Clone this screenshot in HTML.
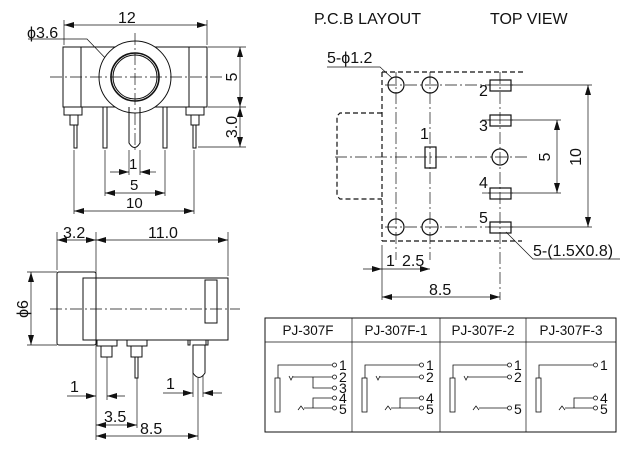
<!DOCTYPE html>
<html><head><meta charset="utf-8"><style>
html,body{margin:0;padding:0;background:#fff;}
svg{display:block;}
text{font-family:"Liberation Sans",sans-serif;fill:#111;}
</style></head><body>
<svg width="635" height="449" viewBox="0 0 635 449" xmlns="http://www.w3.org/2000/svg">
<defs>
<marker id="a" viewBox="0 0 10 6" refX="10" refY="3" markerWidth="10" markerHeight="6" orient="auto-start-reverse" markerUnits="userSpaceOnUse"><path d="M0,0 L10,3 L0,6 z" fill="#111"/></marker>
</defs>
<g stroke="#111" fill="none" stroke-width="1">
<!-- ===== Front view ===== -->
<g stroke-width="0.7">
<line x1="64" y1="20" x2="64" y2="45"/><line x1="207" y1="20" x2="207" y2="45"/>
<line x1="208" y1="47" x2="246" y2="47"/><line x1="208" y1="107" x2="246" y2="107"/><line x1="198" y1="147" x2="246" y2="147"/>
<line x1="74" y1="150" x2="74" y2="214"/><line x1="194" y1="150" x2="194" y2="214"/>
<line x1="105" y1="150" x2="105" y2="196"/><line x1="165" y1="150" x2="165" y2="196"/>
<line x1="129" y1="150" x2="129" y2="175"/><line x1="140" y1="150" x2="140" y2="175"/>
</g>
<line x1="64" y1="25" x2="207" y2="25" stroke-width="0.7" marker-start="url(#a)" marker-end="url(#a)"/>
<line x1="240" y1="47" x2="240" y2="107" stroke-width="0.7" marker-start="url(#a)" marker-end="url(#a)"/>
<line x1="240" y1="107" x2="240" y2="147" stroke-width="0.7" marker-start="url(#a)" marker-end="url(#a)"/>
<line x1="110" y1="172" x2="129" y2="172" stroke-width="0.7" marker-end="url(#a)"/>
<line x1="140" y1="172" x2="156" y2="172" stroke-width="0.7" marker-start="url(#a)"/>
<line x1="105" y1="193" x2="165" y2="193" stroke-width="0.7" marker-start="url(#a)" marker-end="url(#a)"/>
<line x1="74" y1="211" x2="194" y2="211" stroke-width="0.7" marker-start="url(#a)" marker-end="url(#a)"/>
<polyline points="28,39 87,39 110,63" stroke-width="0.7"/>
<rect x="63" y="47" width="144" height="60"/>
<line x1="81" y1="47" x2="81" y2="107"/><line x1="189" y1="47" x2="189" y2="107"/>
<circle cx="135" cy="77" r="36" fill="#fff"/>
<circle cx="135" cy="77" r="24" stroke-width="1.6"/>
<circle cx="135" cy="77" r="22"/>
<line x1="50" y1="77" x2="225" y2="77" stroke-width="0.7" stroke-dasharray="12,3,2,3"/>
<line x1="135" y1="33" x2="135" y2="150" stroke-width="0.7" stroke-dasharray="12,3,2,3"/>
<rect x="64" y="107" width="18" height="8"/><rect x="70" y="115" width="8" height="10"/><rect x="74" y="125" width="3" height="23"/>
<rect x="186" y="107" width="18" height="8"/><rect x="191" y="115" width="8" height="10"/><rect x="193" y="125" width="3" height="23"/>
<rect x="103" y="107" width="4" height="41"/><rect x="163" y="107" width="4" height="41"/>
<path d="M129,107 V143 Q134.5,152 140,143 V107"/>
<!-- ===== Side view ===== -->
<g stroke-width="0.7">
<line x1="57" y1="232" x2="57" y2="270"/><line x1="96" y1="232" x2="96" y2="440"/><line x1="228" y1="232" x2="228" y2="276"/>
<line x1="27" y1="272" x2="57" y2="272"/><line x1="27" y1="345" x2="57" y2="345"/>
<line x1="107" y1="357" x2="107" y2="400"/><line x1="137" y1="378" x2="137" y2="428"/>
<line x1="193" y1="370" x2="193" y2="397"/><line x1="203" y1="370" x2="203" y2="397"/><line x1="198" y1="378" x2="198" y2="440"/>
</g>
<line x1="57" y1="240" x2="96" y2="240" stroke-width="0.7" marker-start="url(#a)" marker-end="url(#a)"/>
<line x1="96" y1="240" x2="228" y2="240" stroke-width="0.7" marker-start="url(#a)" marker-end="url(#a)"/>
<line x1="31" y1="272" x2="31" y2="345" stroke-width="0.7" marker-start="url(#a)" marker-end="url(#a)"/>
<line x1="67" y1="396" x2="96" y2="396" stroke-width="0.7" marker-end="url(#a)"/>
<line x1="107" y1="396" x2="125" y2="396" stroke-width="0.7" marker-start="url(#a)"/>
<line x1="163" y1="393" x2="193" y2="393" stroke-width="0.7" marker-end="url(#a)"/>
<line x1="203" y1="393" x2="222" y2="393" stroke-width="0.7" marker-start="url(#a)"/>
<line x1="96" y1="425" x2="137" y2="425" stroke-width="0.7" marker-start="url(#a)" marker-end="url(#a)"/>
<line x1="96" y1="436" x2="198" y2="436" stroke-width="0.7" marker-start="url(#a)" marker-end="url(#a)"/>
<rect x="57" y="272" width="39" height="73" rx="2"/>
<rect x="83" y="278" width="145" height="62" fill="#fff"/>
<line x1="96" y1="278" x2="96" y2="340"/>
<rect x="205" y="280" width="12" height="43"/>
<line x1="50" y1="309" x2="240" y2="309" stroke-width="0.7" stroke-dasharray="12,3,2,3"/>
<rect x="97" y="340" width="20" height="6"/><rect x="101" y="346" width="11" height="11"/>
<rect x="127" y="340" width="20" height="6"/><rect x="131" y="346" width="11" height="11"/><rect x="135" y="357" width="3" height="21"/>
<rect x="188" y="340" width="2" height="5"/><rect x="206" y="340" width="2" height="5"/>
<path d="M193,345 V373 Q199,382 205,373 V345 Z" fill="#fff"/>
<!-- ===== PCB layout ===== -->
<g stroke-dasharray="5,3" stroke-width="1.2">
<line x1="382" y1="72" x2="523" y2="72"/><line x1="382" y1="241" x2="522" y2="241"/>
<line x1="382" y1="72" x2="382" y2="241"/>
<polyline points="382,113 340,113 337,116 337,196 340,199 382,199"/>
</g>
<g stroke-width="0.7" stroke-dasharray="12,3,2,3">
<line x1="396" y1="72" x2="396" y2="260"/><line x1="430" y1="72" x2="430" y2="260"/><line x1="500" y1="72" x2="500" y2="300"/>
<line x1="385" y1="85" x2="490" y2="85"/><line x1="385" y1="227" x2="490" y2="227"/>
<line x1="335" y1="157" x2="530" y2="157"/>
</g>
<g stroke-width="0.7">
<line x1="382" y1="245" x2="382" y2="300"/>
<line x1="512" y1="85" x2="592" y2="85"/><line x1="512" y1="227" x2="592" y2="227"/>
<line x1="512" y1="120" x2="561" y2="120"/><line x1="512" y1="193" x2="561" y2="193"/>
<line x1="482" y1="120" x2="490" y2="120"/><line x1="482" y1="193" x2="490" y2="193"/>
<polyline points="327,67 380,67 392,78"/>
<polyline points="506,232 533,259 620,259"/>
</g>
<line x1="588" y1="85" x2="588" y2="227" stroke-width="0.7" marker-start="url(#a)" marker-end="url(#a)"/>
<line x1="557" y1="120" x2="557" y2="193" stroke-width="0.7" marker-start="url(#a)" marker-end="url(#a)"/>
<line x1="363" y1="269" x2="382" y2="269" stroke-width="0.7" marker-end="url(#a)"/>
<line x1="382" y1="269" x2="430" y2="269" stroke-width="0.7" marker-end="url(#a)"/>
<line x1="382" y1="297" x2="500" y2="297" stroke-width="0.7" marker-start="url(#a)" marker-end="url(#a)"/>
<g stroke-width="1.2">
<circle cx="396" cy="85" r="8"/><circle cx="430" cy="85" r="8"/>
<circle cx="396" cy="227" r="8"/><circle cx="430" cy="227" r="8"/>
<circle cx="500" cy="157" r="8"/>
<rect x="425" y="147" width="11" height="21"/>
<rect x="490" y="80" width="21" height="11"/><rect x="490" y="115" width="21" height="11"/>
<rect x="490" y="188" width="21" height="11"/><rect x="490" y="222" width="21" height="11"/>
</g>
<g stroke-width="0.7">
<line x1="488" y1="85" x2="513" y2="85"/><line x1="488" y1="120" x2="513" y2="120"/>
<line x1="488" y1="193" x2="513" y2="193"/><line x1="488" y1="227" x2="513" y2="227"/>
</g>
<!-- ===== Table ===== -->
<rect x="265" y="318" width="351" height="114"/>
<line x1="265" y1="342" x2="616" y2="342" stroke-width="0.7"/>
<line x1="352" y1="318" x2="352" y2="432" stroke-width="0.7"/>
<line x1="440" y1="318" x2="440" y2="432" stroke-width="0.7"/>
<line x1="526" y1="318" x2="526" y2="432" stroke-width="0.7"/>
<g stroke-width="0.8">
<g>
<rect x="275" y="378" width="5" height="34"/>
<polyline points="278,378 278,365 332,365"/><circle cx="334.5" cy="365" r="2"/>
<polyline points="289,376 291,380 293,376"/><line x1="293" y1="377" x2="332" y2="377"/><circle cx="334.5" cy="377" r="2"/>
<polyline points="313,377 313,388 332,388"/><circle cx="334.5" cy="388" r="2"/>
<polyline points="313,408 313,398 332,398"/><circle cx="334.5" cy="398" r="2"/>
<polyline points="298,410 301,406 304,410"/><line x1="304" y1="408" x2="332" y2="408"/><circle cx="334.5" cy="408" r="2"/>
</g>
<g transform="translate(87,0)">
<rect x="275" y="378" width="5" height="34"/>
<polyline points="278,378 278,365 332,365"/><circle cx="334.5" cy="365" r="2"/>
<polyline points="289,376 291,380 293,376"/><line x1="293" y1="377" x2="332" y2="377"/><circle cx="334.5" cy="377" r="2"/>
<polyline points="313,408 313,398 332,398"/><circle cx="334.5" cy="398" r="2"/>
<polyline points="298,410 301,406 304,410"/><line x1="304" y1="408" x2="332" y2="408"/><circle cx="334.5" cy="408" r="2"/>
</g>
<g transform="translate(175,0)">
<rect x="275" y="378" width="5" height="34"/>
<polyline points="278,378 278,365 332,365"/><circle cx="334.5" cy="365" r="2"/>
<polyline points="289,376 291,380 293,376"/><line x1="293" y1="377" x2="332" y2="377"/><circle cx="334.5" cy="377" r="2"/>
<polyline points="298,410 301,406 304,410"/><line x1="304" y1="408" x2="332" y2="408"/><circle cx="334.5" cy="408" r="2"/>
</g>
<g transform="translate(261,0)">
<rect x="275" y="378" width="5" height="34"/>
<polyline points="278,378 278,365 332,365"/><circle cx="334.5" cy="365" r="2"/>
<polyline points="313,408 313,398 332,398"/><circle cx="334.5" cy="398" r="2"/>
<polyline points="298,410 301,406 304,410"/><line x1="304" y1="408" x2="332" y2="408"/><circle cx="334.5" cy="408" r="2"/>
</g>
</g>
</g>
<!-- texts -->
<g font-size="16">
<text x="118" y="23">12</text>
<text x="27" y="38">ϕ3.6</text>
<text x="129" y="169" font-size="15">1</text>
<text x="130" y="190" font-size="15">5</text>
<text x="126" y="208" font-size="15">10</text>
<text transform="translate(237,77) rotate(-90)" text-anchor="middle">5</text>
<text transform="translate(237,127) rotate(-90)" text-anchor="middle">3.0</text>
<text x="63" y="238">3.2</text>
<text x="148" y="238">11.0</text>
<text transform="translate(28,309) rotate(-90)" text-anchor="middle">ϕ6</text>
<text x="70" y="392">1</text>
<text x="166" y="389">1</text>
<text x="104" y="422">3.5</text>
<text x="140" y="434">8.5</text>
<text x="314" y="24">P.C.B LAYOUT</text>
<text x="490" y="24">TOP VIEW</text>
<text x="327" y="63">5-ϕ1.2</text>
<text x="479" y="96">2</text><text x="479" y="131">3</text><text x="420" y="139">1</text>
<text x="479" y="188">4</text><text x="479" y="223">5</text>
<text x="533" y="256">5-(1.5X0.8)</text>
<text x="386" y="266">1</text><text x="402" y="266">2.5</text>
<text x="429" y="295">8.5</text>
<text transform="translate(581,157) rotate(-90)" text-anchor="middle">10</text>
<text transform="translate(550,157) rotate(-90)" text-anchor="middle">5</text>
</g>
<g font-size="13.5" text-anchor="middle">
<text x="308" y="335">PJ-307F</text>
<text x="396" y="335">PJ-307F-1</text>
<text x="483" y="335">PJ-307F-2</text>
<text x="571" y="335">PJ-307F-3</text>
</g>
<g font-size="14">
<text x="339" y="370">1</text><text x="339" y="382">2</text><text x="339" y="393">3</text><text x="339" y="403">4</text><text x="339" y="414">5</text>
<text x="426" y="370">1</text><text x="426" y="382">2</text><text x="426" y="403">4</text><text x="426" y="414">5</text>
<text x="514" y="370">1</text><text x="514" y="382">2</text><text x="514" y="414">5</text>
<text x="600" y="370">1</text><text x="600" y="403">4</text><text x="600" y="414">5</text>
</g>
</svg>
</body></html>
